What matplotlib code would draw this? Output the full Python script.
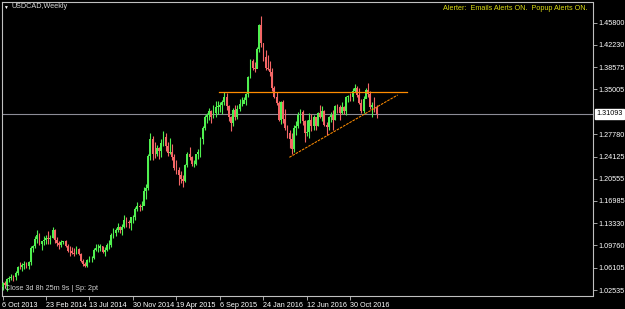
import numpy as np
import matplotlib
matplotlib.use("Agg")
import matplotlib.pyplot as plt
import matplotlib.transforms as mtransforms

plt.rcParams['font.family'] = ['Liberation Sans', 'DejaVu Sans']

# ────────────────────────────────────────────────
# USDCAD weekly candles (6 Oct 2013 .. late Jan 2017)
# ────────────────────────────────────────────────
first_open = 1.0300

closes = [
    1.0360, 1.0330, 1.0430, 1.0440, 1.0470, 1.0460, 1.0530, 1.0630, 1.0620, 1.0660,
    1.0660, 1.0640, 1.0700, 1.0930, 1.0960, 1.1080, 1.1140, 1.1000, 1.1040, 1.1060,
    1.1090, 1.1080, 1.1100, 1.1230, 1.1060, 1.1020, 1.0980, 1.1030, 1.1040, 1.0970,
    1.0890, 1.0880, 1.0850, 1.0840, 1.0920, 1.0830, 1.0720, 1.0670, 1.0650, 1.0740,
    1.0770, 1.0770, 1.0900, 1.0930, 1.0930, 1.0970, 1.0870, 1.0900, 1.0980, 1.0980,
    1.1150, 1.1170, 1.1230, 1.1280, 1.1230, 1.1270, 1.1390, 1.1350, 1.1330, 1.1430,
    1.1430, 1.1560, 1.1620, 1.1590, 1.1620, 1.1850, 1.1900, 1.2420, 1.2700, 1.2460,
    1.2450, 1.2550, 1.2500, 1.2630, 1.2730, 1.2580, 1.2470, 1.2480, 1.2410, 1.2230,
    1.2200, 1.2120, 1.2050, 1.2010, 1.2270, 1.2460, 1.2400, 1.2290, 1.2300, 1.2450,
    1.2480, 1.2690, 1.2870, 1.3050, 1.3090, 1.3150, 1.3050, 1.3120, 1.3220, 1.3220,
    1.3250, 1.3300, 1.3370, 1.3230, 1.3050, 1.2950, 1.3170, 1.3050, 1.3180, 1.3260,
    1.3260, 1.3330, 1.3420, 1.3700, 1.3960, 1.3850, 1.3830, 1.4150, 1.4540, 1.4250,
    1.4020, 1.3850, 1.3830, 1.3780, 1.3520, 1.3380, 1.3280, 1.3010, 1.3300, 1.3020,
    1.2870, 1.2790, 1.2700, 1.2540, 1.2880, 1.2900, 1.3090, 1.3130, 1.2990, 1.2800,
    1.2810, 1.3000, 1.2900, 1.3060, 1.2900, 1.3120, 1.3060, 1.3150, 1.2930, 1.2890,
    1.3050, 1.3080, 1.3010, 1.3230, 1.3210, 1.3120, 1.3220, 1.3150, 1.3380, 1.3400,
    1.3380, 1.3470, 1.3520, 1.3410, 1.3280, 1.3150, 1.3340, 1.3490, 1.3430, 1.3220,
    1.3240, 1.3220, 1.31093,
]

highs = [
    1.0390, 1.0400, 1.0450, 1.0480, 1.0510, 1.0500, 1.0560, 1.0640, 1.0700, 1.0690,
    1.0720, 1.0700, 1.0720, 1.0960, 1.0980, 1.1120, 1.1220, 1.1180, 1.1050, 1.1120,
    1.1150, 1.1210, 1.1140, 1.1280, 1.1240, 1.1110, 1.1040, 1.1060, 1.1050, 1.1060,
    1.1000, 1.0960, 1.0950, 1.0940, 1.0960, 1.0940, 1.0850, 1.0750, 1.0700, 1.0760,
    1.0800, 1.0800, 1.0940, 1.0990, 1.0990, 1.1000, 1.0970, 1.0950, 1.1020, 1.1070,
    1.1180, 1.1260, 1.1260, 1.1330, 1.1290, 1.1320, 1.1470, 1.1440, 1.1380, 1.1440,
    1.1470, 1.1600, 1.1680, 1.1650, 1.1700, 1.1920, 1.1970, 1.2460, 1.2800, 1.2750,
    1.2650, 1.2600, 1.2560, 1.2700, 1.2830, 1.2800, 1.2650, 1.2720, 1.2620, 1.2460,
    1.2360, 1.2250, 1.2180, 1.2120, 1.2300, 1.2480, 1.2560, 1.2430, 1.2360, 1.2460,
    1.2540, 1.2730, 1.2900, 1.3080, 1.3120, 1.3200, 1.3170, 1.3250, 1.3310, 1.3320,
    1.3300, 1.3330, 1.3460, 1.3440, 1.3240, 1.3070, 1.3200, 1.3250, 1.3240, 1.3340,
    1.3370, 1.3380, 1.3440, 1.3720, 1.3990, 1.4000, 1.3950, 1.4180, 1.4560, 1.4690,
    1.4250, 1.4130, 1.4050, 1.3960, 1.3850, 1.3560, 1.3460, 1.3310, 1.3320, 1.3330,
    1.3190, 1.2930, 1.2840, 1.2790, 1.2930, 1.2990, 1.3140, 1.3190, 1.3160, 1.3000,
    1.3000, 1.3120, 1.3100, 1.3090, 1.3060, 1.3140, 1.3250, 1.3230, 1.3160, 1.2970,
    1.3070, 1.3140, 1.3170, 1.3240, 1.3270, 1.3250, 1.3290, 1.3230, 1.3400, 1.3410,
    1.3440, 1.3520, 1.3590, 1.3550, 1.3520, 1.3350, 1.3390, 1.3530, 1.3600, 1.3480,
    1.3290, 1.3380, 1.3250,
]

lows = [
    1.0260, 1.0280, 1.0230, 1.0390, 1.0410, 1.0400, 1.0420, 1.0490, 1.0600, 1.0560,
    1.0600, 1.0610, 1.0590, 1.0660, 1.0870, 1.0930, 1.1020, 1.0980, 1.0900, 1.0980,
    1.1000, 1.1000, 1.0990, 1.1100, 1.1020, 1.0970, 1.0910, 1.0950, 1.0990, 1.0950,
    1.0870, 1.0810, 1.0830, 1.0810, 1.0830, 1.0820, 1.0700, 1.0650, 1.0620, 1.0630,
    1.0700, 1.0710, 1.0760, 1.0880, 1.0870, 1.0880, 1.0850, 1.0810, 1.0880, 1.0920,
    1.0950, 1.1090, 1.1130, 1.1190, 1.1180, 1.1150, 1.1250, 1.1280, 1.1260, 1.1230,
    1.1340, 1.1380, 1.1530, 1.1540, 1.1550, 1.1630, 1.1730, 1.1880, 1.2350, 1.2350,
    1.2390, 1.2420, 1.2370, 1.2400, 1.2580, 1.2510, 1.2420, 1.2460, 1.2350, 1.2200,
    1.2130, 1.1950, 1.1990, 1.1920, 1.2000, 1.2240, 1.2350, 1.2260, 1.2240, 1.2280,
    1.2370, 1.2400, 1.2610, 1.2850, 1.2950, 1.3000, 1.2950, 1.3030, 1.3050, 1.3110,
    1.3140, 1.3100, 1.3240, 1.3160, 1.2990, 1.2830, 1.2900, 1.3010, 1.3020, 1.3150,
    1.3230, 1.3280, 1.3250, 1.3380, 1.3680, 1.3820, 1.3790, 1.3850, 1.4110, 1.4180,
    1.3960, 1.3810, 1.3810, 1.3720, 1.3470, 1.3360, 1.3250, 1.2990, 1.2940, 1.2960,
    1.2850, 1.2720, 1.2550, 1.2460, 1.2480, 1.2760, 1.2880, 1.2960, 1.2930, 1.2650,
    1.2740, 1.2720, 1.2830, 1.2840, 1.2840, 1.2900, 1.3040, 1.2990, 1.2900, 1.2770,
    1.2850, 1.2980, 1.2840, 1.3000, 1.3120, 1.3010, 1.3100, 1.3110, 1.3090, 1.3300,
    1.3320, 1.3310, 1.3460, 1.3380, 1.3260, 1.3120, 1.3120, 1.3360, 1.3380, 1.3180,
    1.3060, 1.3130, 1.3030,
]

# date axis: one label every 20 weeks
date_ticks = [0, 20, 40, 60, 80, 100, 120, 140, 160]
date_labels = ['6 Oct 2013', '23 Feb 2014', '13 Jul 2014', '30 Nov 2014', '19 Apr 2015',
               '6 Sep 2015', '24 Jan 2016', '12 Jun 2016', '30 Oct 2016']

price_ticks = [1.45800, 1.42230, 1.38575, 1.35005, 1.27780, 1.24125, 1.20555,
               1.16985, 1.13330, 1.09760, 1.06105, 1.02535]

last_price = 1.31093

# drawn objects: resistance level and rising trendline
level_weeks = [99.5, 186.0]
level_prices = [1.3458, 1.3458]
trend_weeks = [131.9, 181.7]
trend_prices = [1.2401, 1.3410]

# ────────────────────────────────────────────────
# Plot
# ────────────────────────────────────────────────
W, H = 625, 309
FS = 5.2
fig = plt.figure(figsize=(W / 100, H / 100), dpi=100, facecolor='black')
ax = fig.add_axes([2 / W, (H - 296) / H, (592.5 - 2) / W, (296 - 2) / H])
ax.set_facecolor('black')

c = np.array(closes)
o = np.array([first_open] + closes[:-1])
hi = np.array(highs)
lo = np.array(lows)
weeks = np.arange(len(c))
up = c >= o

bull, bear = '#50f050', '#f46666'
cols = np.where(up, bull, bear)

ax.vlines(weeks, lo, hi, colors=cols, linewidth=0.8, zorder=3)
body = np.maximum(np.abs(c - o), 0.0008)
ax.bar(weeks, body, bottom=np.minimum(o, c), width=0.85, color=cols,
       linewidth=0, zorder=4)

ax.axhline(last_price, color='#8c8c96', linewidth=0.8, zorder=2)
ax.plot(level_weeks, level_prices, color='#ff8c00', linewidth=0.9, zorder=5)
ax.plot(trend_weeks, trend_prices, color='#ff8c00', linewidth=0.75,
        linestyle=(0, (2.5, 1)), zorder=5)

ax.set_xlim((2 - 2.5) / 2.175, (592.5 - 2.5) / 2.175)
ax.set_ylim(1.01564, 1.49150)

for s in ax.spines.values():
    s.set_color('#c0c0c0')
    s.set_linewidth(0.8)

ax.yaxis.tick_right()
ax.set_yticks(price_ticks)
ax.set_yticklabels([f'{p:.5f}' for p in price_ticks])
ax.tick_params(axis='y', colors='#c0c0c0', labelcolor='white', labelsize=FS,
               length=3, width=0.6, pad=1.5)

ax.set_xticks(date_ticks)
ax.set_xticklabels(date_labels, ha='left')
ax.tick_params(axis='x', colors='#c0c0c0', labelcolor='white', labelsize=FS,
               length=3, width=0.6, pad=1.5)

# current price box on the axis
trans = mtransforms.blended_transform_factory(ax.transAxes, ax.transData)
ax.text(1.007, last_price, f'{last_price:.5f}', transform=trans, ha='left', va='center',
        fontsize=FS, color='black', clip_on=False, zorder=6,
        bbox=dict(boxstyle='square,pad=0.2', facecolor='white', edgecolor='white'))

# chart captions
fig.text(5.5 / W, 1 - 7 / H, '\u25bc', fontsize=3.5, color='white', ha='center', va='center')
fig.text(12 / W, 1 - 7 / H, 'USDCAD,Weekly', fontsize=FS, color='#d8d8d8', va='center')
fig.text(588 / W, 1 - 8 / H, 'Alerter:  Emails Alerts ON.  Popup Alerts ON.',
         fontsize=FS, color='#dcdc14', ha='right', va='center')
fig.text(5 / W, 1 - 289 / H, 'Close 3d 8h 25m 9s | Sp: 2pt', fontsize=FS,
         color='#d0d0d0', va='center')

fig.savefig('out.png', dpi=100, facecolor='black')
